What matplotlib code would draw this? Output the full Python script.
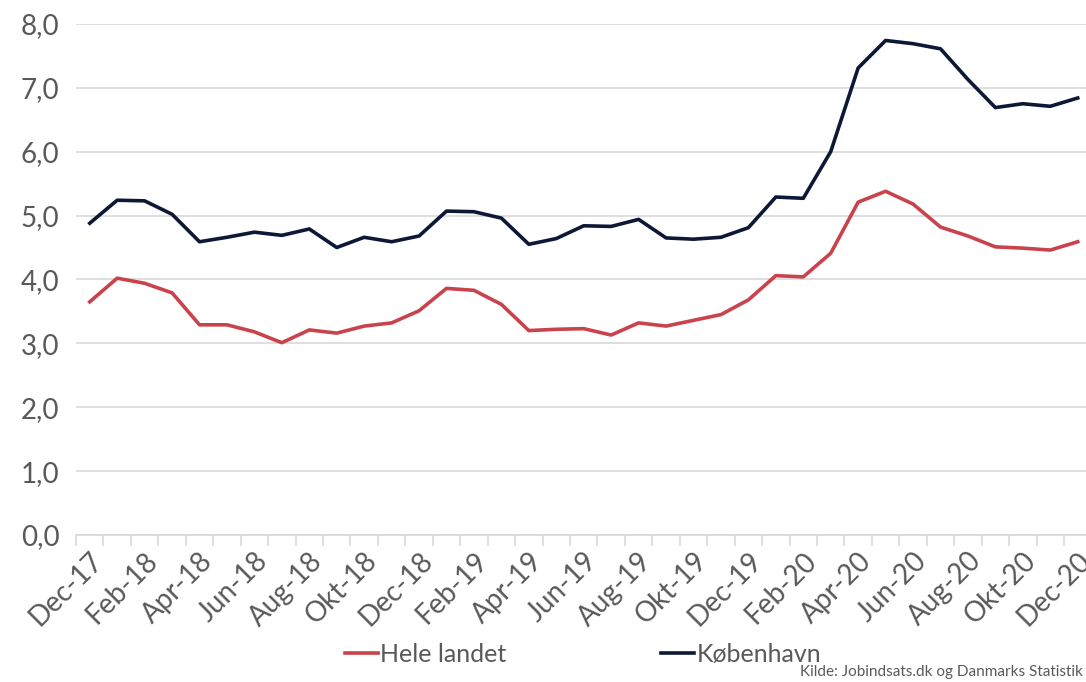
import matplotlib
matplotlib.use("Agg")
import matplotlib.pyplot as plt
from matplotlib.ticker import FuncFormatter, MultipleLocator

months = ["Dec-17", "Jan-18", "Feb-18", "Mar-18", "Apr-18", "Maj-18", "Jun-18", "Jul-18",
          "Aug-18", "Sep-18", "Okt-18", "Nov-18", "Dec-18", "Jan-19", "Feb-19", "Mar-19",
          "Apr-19", "Maj-19", "Jun-19", "Jul-19", "Aug-19", "Sep-19", "Okt-19", "Nov-19",
          "Dec-19", "Jan-20", "Feb-20", "Mar-20", "Apr-20", "Maj-20", "Jun-20", "Jul-20",
          "Aug-20", "Sep-20", "Okt-20", "Nov-20", "Dec-20"]

hele_landet = [3.65, 4.02, 3.94, 3.79, 3.29, 3.29, 3.18, 3.01, 3.21, 3.16, 3.27, 3.32,
               3.51, 3.86, 3.83, 3.61, 3.20, 3.22, 3.23, 3.13, 3.32, 3.27, 3.36, 3.45,
               3.68, 4.06, 4.04, 4.41, 5.21, 5.38, 5.18, 4.82, 4.68, 4.51, 4.49, 4.46, 4.59]

koebenhavn = [4.88, 5.24, 5.23, 5.02, 4.59, 4.66, 4.74, 4.69, 4.79, 4.50, 4.66, 4.59,
              4.68, 5.07, 5.06, 4.96, 4.55, 4.64, 4.84, 4.83, 4.94, 4.65, 4.63, 4.66,
              4.81, 5.29, 5.27, 6.00, 7.31, 7.74, 7.69, 7.61, 7.13, 6.69, 6.75, 6.71, 6.84]

plt.rcParams["font.family"] = ["Lato", "DejaVu Sans"]
txt_col = "#595959"

fig = plt.figure(figsize=(10.86, 6.82), dpi=100)
ax = fig.add_axes([0.07, 0.2155, 0.935, 0.7495])

x = list(range(len(months)))
ax.plot(x, hele_landet, color="#C9434C", lw=2.6, label="Hele landet")
ax.plot(x, koebenhavn, color="#0C1836", lw=2.6, label="København")

ax.set_xlim(-0.5, len(months) - 0.5)
ax.set_ylim(0, 8)
ax.yaxis.set_major_locator(MultipleLocator(1))
ax.yaxis.set_major_formatter(FuncFormatter(lambda v, p: f"{v:.1f}".replace(".", ",")))
ax.grid(axis="y", color="#D9D9D9", lw=1.2)
ax.set_axisbelow(True)

ax.set_xticks(x[::2])
ax.set_xticklabels(months[::2], rotation=45, ha="right", va="top", rotation_mode="anchor")
ax.set_xticks([i - 0.5 for i in range(len(months) + 1)], minor=True)
ax.tick_params(axis="x", which="major", length=0, pad=9, labelsize=20, labelcolor=txt_col)
ax.tick_params(axis="x", which="minor", length=8, color="#D9D9D9", width=1.2)
ax.tick_params(axis="y", length=0, pad=12, labelsize=20, labelcolor=txt_col)

for s in ["top", "right", "left"]:
    ax.spines[s].set_visible(False)
ax.spines["bottom"].set_color("#D9D9D9")
ax.spines["bottom"].set_linewidth(1.2)

fig.legend(loc="center", bbox_to_anchor=(0.537, 0.04), ncol=2, frameon=False,
           fontsize=18, handlelength=1.3, handletextpad=0.1, columnspacing=6.2,
           labelcolor=txt_col)

fig.text(0.997, 0.004, "Kilde: Jobindsats.dk og Danmarks Statistik", ha="right", va="bottom",
         fontsize=11, color=txt_col)

fig.savefig("out.png", dpi=100)
